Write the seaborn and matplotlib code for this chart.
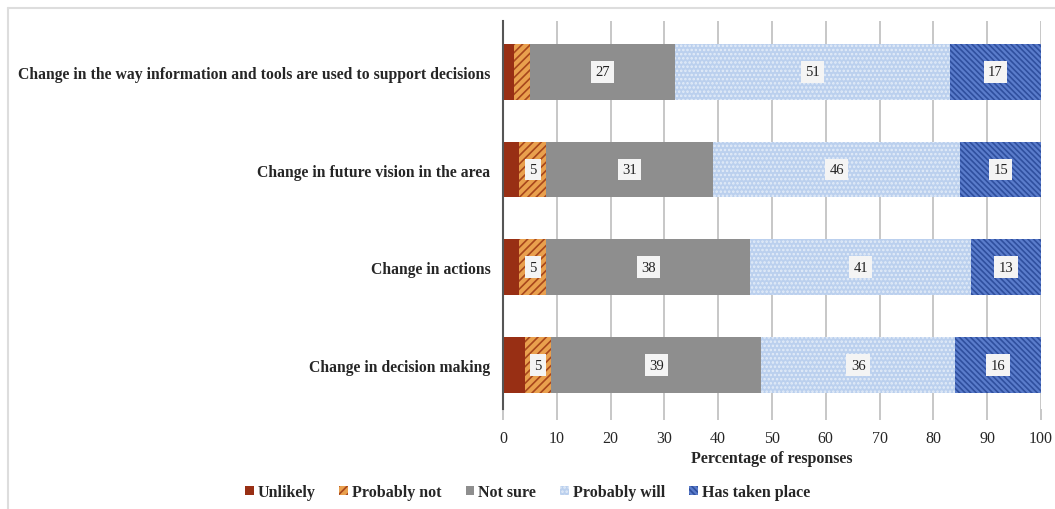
import numpy as np
import pandas as pd
import seaborn as sns
import matplotlib.pyplot as plt
from matplotlib.patches import Patch
from matplotlib.lines import Line2D

categories = [
    "Change in the way information and tools are used to support decisions",
    "Change in future vision in the area",
    "Change in actions",
    "Change in decision making",
]
series_names = ["Unlikely", "Probably not", "Not sure", "Probably will", "Has taken place"]
unlikely = [2, 3, 3, 4]
probably_not = [3, 5, 5, 5]
not_sure = [27, 31, 38, 39]
probably_will = [51, 46, 41, 36]
has_taken_place = [17, 15, 13, 16]
x_ticks = [0, 10, 20, 30, 40, 50, 60, 70, 80, 90, 100]

face_colors = ["#982F14", "#E9A04E", "#8E8E8E", "#BBD0EE", "#5A7CCB"]
hatch_colors = ["#982F14", "#A8461C", "#8E8E8E", "#E3ECF8", "#2F4F9E"]
hatches = [None, "////", None, "....", "\\\\\\\\\\\\"]

sns.set_theme(style="white")
plt.rcParams["font.family"] = ["Liberation Serif", "DejaVu Serif"]
plt.rcParams["hatch.linewidth"] = 1.2

df = pd.DataFrame({
    "category": categories,
    "Unlikely": unlikely,
    "Probably not": probably_not,
    "Not sure": not_sure,
    "Probably will": probably_will,
    "Has taken place": has_taken_place,
})
cum = df[series_names].cumsum(axis=1)

fig = plt.figure(figsize=(10.55, 5.10), dpi=100)
ax = fig.add_axes([503 / 1055, 1 - 410 / 510, 538 / 1055, 388 / 510])

ax.set_axisbelow(True)
ax.xaxis.grid(True, color="#BDBDBD", linewidth=1.2)

# draw stacked bars back to front: largest cumulative first
for i in range(len(series_names) - 1, -1, -1):
    name = series_names[i]
    n_before = len(ax.patches)
    sns.barplot(x=cum[name], y=df["category"], orient="h", color=face_colors[i],
                width=0.57, saturation=1, ax=ax)
    for p in ax.patches[n_before:]:
        p.set_linewidth(0)
        if hatches[i]:
            p.set_hatch(hatches[i])
            p.set_edgecolor(hatch_colors[i])

# value labels
for i, name in enumerate(series_names):
    for j in range(len(categories)):
        val = df[name].iloc[j]
        if val < 5:
            continue
        center = cum[name].iloc[j] - val / 2
        ax.text(center, j, str(val), ha="center", va="center", fontsize=10.5,
                color="#222222",
                bbox=dict(boxstyle="square,pad=0.3", facecolor="#F4F4F4", edgecolor="none"))

ax.set_xlim(0, 100)
ax.set_ylim(3.45, -0.52)
ax.set_xticks(x_ticks)
ax.set_xticklabels([str(t) for t in x_ticks], fontsize=11.5)
ax.tick_params(axis="x", length=8, color="#BDBDBD", width=1.2, pad=7, bottom=True)
ax.tick_params(axis="y", length=0, pad=9)
for lbl in ax.get_yticklabels():
    lbl.set_fontweight("bold")
    lbl.set_fontsize(11.3)
ax.set_ylabel("")
ax.set_xlabel("Percentage of responses", fontsize=11.5, fontweight="bold", labelpad=3)

for s in ["top", "right", "bottom"]:
    ax.spines[s].set_visible(False)
ax.spines["left"].set_color("#555555")
ax.spines["left"].set_linewidth(1.5)

handles = []
for i, name in enumerate(series_names):
    handles.append(Patch(facecolor=face_colors[i], edgecolor=hatch_colors[i] if hatches[i] else face_colors[i],
                         hatch=hatches[i], linewidth=0, label=name))
fig.legend(handles=handles, loc="center", bbox_to_anchor=(0.5, 1 - 493 / 510), ncol=5,
           frameon=False, prop={"weight": "bold", "size": 11.5}, handlelength=0.55,
           handleheight=0.55, handletextpad=0.25, columnspacing=1.5)

# light frame of the chart area
fig.add_artist(Line2D([8 / 1055, 1.0], [1 - 9 / 510, 1 - 9 / 510], color="#DDDDDD", linewidth=1.5))
fig.add_artist(Line2D([8 / 1055, 8 / 1055], [0, 1 - 9 / 510], color="#DDDDDD", linewidth=1.5))

fig.savefig("out.png", dpi=100)
